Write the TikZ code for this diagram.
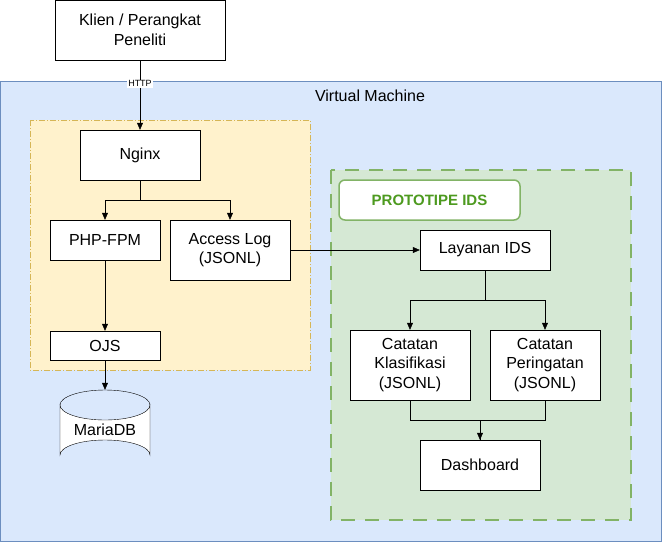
\documentclass[tikz,border=0pt]{standalone}
\usepackage{fontspec}
\setmainfont{Liberation Sans}
\usetikzlibrary{positioning,arrows.meta}
\definecolor{vmblue}{HTML}{DAE8FC}
\definecolor{vmline}{HTML}{6C8EBF}
\definecolor{webfill}{HTML}{FFF2CC}
\definecolor{webline}{HTML}{D6B656}
\definecolor{idsfill}{HTML}{D5E8D4}
\definecolor{idsline}{HTML}{82B366}
\definecolor{idstext}{HTML}{4D9A1F}

\begin{document}
\begin{tikzpicture}[x=1pt,y=-1pt,
  every node/.style={font=\fontsize{16}{19.5}\selectfont},
  box/.style={draw, fill=white, align=center, inner sep=0pt},
  arr/.style={-{Triangle[length=7pt,width=6pt]}}]
  \useasboundingbox (0,0) rectangle (662,542);

  % regions
  \draw[vmline, fill=vmblue] (0.5,81) rectangle (661,541.5);
  \node (vm) at (370,96) {Virtual Machine};
  \draw[webline, fill=webfill, dash pattern=on 6pt off 2pt on 1pt off 2pt] (30,120) rectangle (310,370);
  \draw[idsline, fill=idsfill, line width=2.5pt, dash pattern=on 14pt off 10pt] (331,170) rectangle (631,520);
  \node[draw=idsline, line width=1.5pt, fill=white, rounded corners=6pt, minimum width=181pt, minimum height=40pt, text=idstext, font=\fontsize{15}{18}\selectfont\bfseries] (title) at (429.5,200) {PROTOTIPE IDS};

  % database cylinder
  \draw[fill=white] (60,405) -- (60,455) arc[start angle=180, end angle=0, x radius=45pt, y radius=15pt]
    -- (150,405) arc[start angle=0, end angle=-180, x radius=45pt, y radius=15pt] -- cycle;
  \draw (150,405) arc[start angle=0, end angle=180, x radius=45pt, y radius=15pt];

  % nodes
  \node[box, minimum width=170pt, minimum height=60pt] (client) at (140,30) {Klien / Perangkat\\Peneliti};
  \node[box, minimum width=120pt, minimum height=50pt] (nginx) at (140,155) {Nginx};
  \node[box, minimum width=110pt, minimum height=40pt] (php) at (105,240) {PHP-FPM};
  \node[box, minimum width=120pt, minimum height=60pt] (log) at (230,250) {Access Log\\(JSONL)};
  \node[box, minimum width=110pt, minimum height=29pt] (ojs) at (105,345.5) {OJS};
  \node[minimum width=90pt, minimum height=80pt, inner sep=0pt] (db) at (105,430) {\raisebox{-12pt}{MariaDB}};
  \node[box, minimum width=130pt, minimum height=40pt] (ids) at (485,250) {Layanan IDS};
  \node[box, minimum width=120pt, minimum height=70pt] (klas) at (410,365) {Catatan\\Klasifikasi\\(JSONL)};
  \node[box, minimum width=110pt, minimum height=70pt] (peri) at (545,365) {Catatan\\Peringatan\\(JSONL)};
  \node[box, minimum width=120pt, minimum height=50pt] (dash) at (480,465) {Dashboard};

  % connectors
  \draw[arr] (client) -- node[pos=0.34, fill=white, inner sep=1pt, font=\fontsize{9}{10}\selectfont] (http) {HTTP} (nginx);
  \draw[arr] (nginx.south) -- ++(0,20) -| (php.north);
  \draw[arr] (nginx.south) -- ++(0,20) -| (log.north);
  \draw[arr] (php) -- (ojs);
  \draw[arr] (ojs.south) -- (db.north);
  \draw[arr] (log) -- (ids);
  \draw[arr] (ids.south) -- ++(0,30) -| (klas.north);
  \draw[arr] (ids.south) -- ++(0,30) -| (peri.north);
  \draw (klas.south) -- ++(0,20) -| (dash.north);
  \draw[arr] (peri.south) -- ++(0,20) -| (dash.north);
\end{tikzpicture}
\end{document}
